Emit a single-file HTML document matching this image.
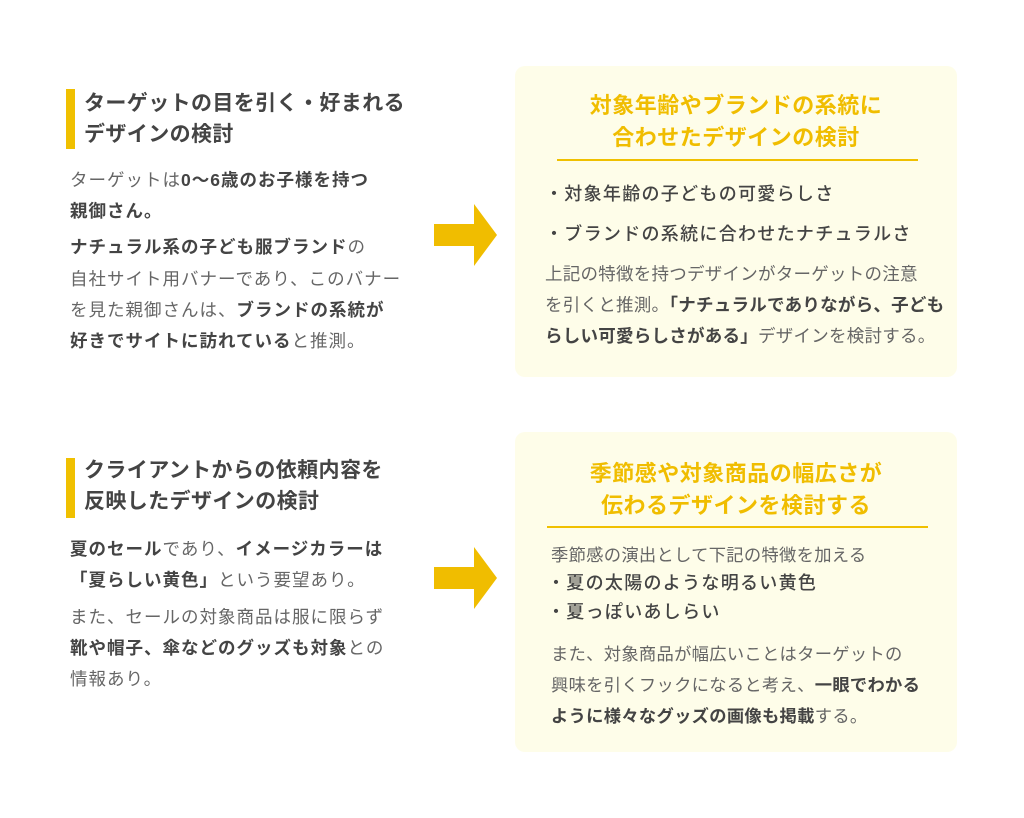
<!DOCTYPE html>
<html><head><meta charset="utf-8"><style>
body{margin:0;width:1024px;height:818px;background:#fff;position:relative;overflow:hidden;font-family:"Liberation Sans","Noto Sans CJK JP",sans-serif;color:#666}
.a{position:absolute;white-space:nowrap}
.t{font-size:21px;font-weight:700;color:#444;line-height:31px;letter-spacing:0.4px}
.b{font-size:17px;line-height:31px}
.lb{font-size:17.5px;letter-spacing:1px}
b{font-weight:700;color:#444}
.bar{position:absolute;left:66px;width:9px;height:60px;background:#f0c000}
.box{position:absolute;left:515px;width:442px;background:#fefde9;border-radius:10px}
.yt{font-size:22px;font-weight:700;color:#f0bd00;line-height:32px;text-align:center;width:442px;left:515px;letter-spacing:0.5px}
.ln{position:absolute;height:2px;background:#f0c000}
.bl{font-size:18px;color:#444;font-weight:500;line-height:30px;letter-spacing:1.3px}
</style></head><body>
<div class="bar" style="top:89px"></div>
<div class="a t" style="left:84px;top:88px">ターゲットの目を引く・好まれる</div>
<div class="a t" style="left:84px;top:119px">デザインの検討</div>
<div class="a b lb" style="left:70px;top:165px">ターゲットは<b>0〜6歳のお子様を持つ</b></div>
<div class="a b lb" style="left:70px;top:196px"><b>親御さん。</b></div>
<div class="a b lb" style="left:70px;top:232px"><b>ナチュラル系の子ども服ブランド</b>の</div>
<div class="a b lb" style="left:70px;top:264px">自社サイト用バナーであり、このバナー</div>
<div class="a b lb" style="left:70px;top:295px">を見た親御さんは、<b>ブランドの系統が</b></div>
<div class="a b lb" style="left:70px;top:326px"><b>好きでサイトに訪れている</b>と推測。</div>

<svg class="a" style="left:434px;top:204px" width="64" height="62"><polygon points="0,20 40,20 40,0 63,31 40,62 40,42 0,42" fill="#f0bd00"/></svg>
<svg class="a" style="left:434px;top:547px" width="64" height="62"><polygon points="0,20 40,20 40,0 63,31 40,62 40,42 0,42" fill="#f0bd00"/></svg>

<div class="box" style="top:66px;height:311px"></div>
<div class="a yt" style="top:90px">対象年齢やブランドの系統に</div>
<div class="a yt" style="top:122px">合わせたデザインの検討</div>
<div class="ln" style="left:557px;width:361px;top:159px"></div>
<div class="a bl" style="left:545px;top:179px">・対象年齢の子どもの可愛らしさ</div>
<div class="a bl" style="left:545px;top:219px">・ブランドの系統に合わせたナチュラルさ</div>
<div class="a b" style="left:545px;top:259px;font-size:17.5px;letter-spacing:0.25px">上記の特徴を持つデザインがターゲットの注意</div>
<div class="a b" style="left:545px;top:290px;font-size:17.5px;letter-spacing:0.25px">を引くと推測。<b>「ナチュラルでありながら、子ども</b></div>
<div class="a b" style="left:545px;top:321px;font-size:17.5px;letter-spacing:0.25px"><b>らしい可愛らしさがある」</b>デザインを検討する。</div>

<div class="bar" style="top:458px"></div>
<div class="a t" style="left:84px;top:455px">クライアントからの依頼内容を</div>
<div class="a t" style="left:84px;top:486px">反映したデザインの検討</div>
<div class="a b lb" style="left:70px;top:534px"><b>夏のセール</b>であり、<b>イメージカラーは</b></div>
<div class="a b lb" style="left:70px;top:565px"><b>「夏らしい黄色」</b>という要望あり。</div>
<div class="a b lb" style="left:70px;top:602px">また、セールの対象商品は服に限らず</div>
<div class="a b lb" style="left:70px;top:633px"><b>靴や帽子、傘などのグッズも対象</b>との</div>
<div class="a b lb" style="left:70px;top:664px">情報あり。</div>

<div class="box" style="top:432px;height:320px"></div>
<div class="a yt" style="top:458px">季節感や対象商品の幅広さが</div>
<div class="a yt" style="top:490px">伝わるデザインを検討する</div>
<div class="ln" style="left:547px;width:381px;top:526px"></div>
<div class="a b" style="left:551px;top:540px;font-size:17.3px;letter-spacing:0.3px">季節感の演出として下記の特徴を加える</div>
<div class="a bl" style="left:547px;top:568px">・夏の太陽のような明るい黄色</div>
<div class="a bl" style="left:547px;top:597px">・夏っぽいあしらい</div>
<div class="a b" style="left:551px;top:639px;font-size:17.3px;letter-spacing:0.3px">また、対象商品が幅広いことはターゲットの</div>
<div class="a b" style="left:551px;top:670px;font-size:17.3px;letter-spacing:0.3px">興味を引くフックになると考え、<b>一眼でわかる</b></div>
<div class="a b" style="left:551px;top:701px;font-size:17.3px;letter-spacing:0.3px"><b>ように様々なグッズの画像も掲載</b>する。</div>
</body></html>
